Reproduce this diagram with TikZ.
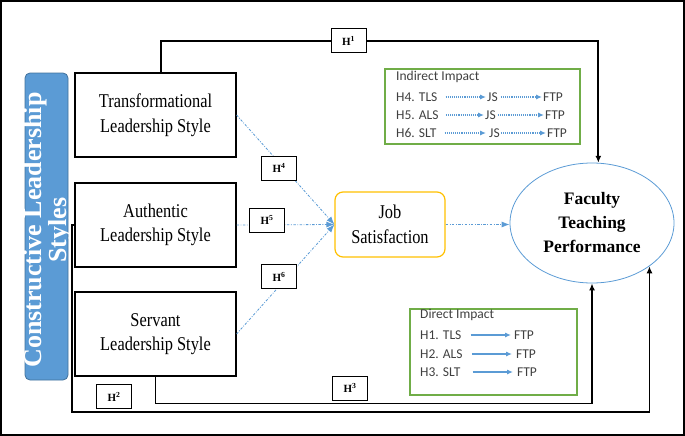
\documentclass[tikz,border=0pt]{standalone}
\usepackage{fontspec}
\setmainfont{Liberation Serif}
\newfontfamily\boxfont{Liberation Serif}[FakeStretch=0.84]
\newfontfamily\legfont{Carlito}
\usetikzlibrary{shapes.geometric,arrows.meta}
\definecolor{barblue}{HTML}{5B9BD5}
\definecolor{barborder}{HTML}{41719C}
\definecolor{leggreen}{HTML}{70AD47}
\definecolor{jsyellow}{HTML}{FFC000}
\definecolor{legtext}{HTML}{404040}
\tikzset{
  lsbox/.style={draw, line width=1.1pt, minimum width=161pt, minimum height=84pt, align=center, inner sep=0pt, font=\boxfont\fontsize{19.5}{24.5}\selectfont},
  hlab/.style={draw, line width=1pt, fill=white, minimum width=35pt, minimum height=24pt, inner sep=0pt, font=\bfseries\fontsize{11}{11}\selectfont},
  conn/.style={line width=1.8pt, -{Latex[length=7pt,width=6pt]}},
  connplain/.style={line width=1.8pt},
  dotl/.style={barblue, line width=0.8pt, dash pattern=on 2.5pt off 1.5pt on 0.8pt off 1.5pt, -{Latex[length=8pt,width=6pt]}},
  leg/.style={anchor=west, inner sep=0pt, font=\legfont\fontsize{13.5}{13.5}\selectfont, text=legtext},
  legdir/.style={barblue, line width=1.1pt, -{Latex[length=6pt,width=5pt]}},
  legind/.style={barblue, line width=1.1pt, densely dotted, -{Latex[length=6pt,width=5pt]}},
  greenbox/.style={draw=leggreen, line width=1.2pt, inner sep=0pt}
}
\begin{document}
\begin{tikzpicture}[x=1pt,y=-1pt]
\useasboundingbox (0,0) rectangle (685,436);
\draw[line width=2pt] (1,1) rectangle (684,435);

% left bar
\node[draw=barborder, fill=barblue, rounded corners=5pt, line width=0.8pt, minimum width=43pt, minimum height=307pt, inner sep=0pt] (bar) at (46.5,226.5) {};
\node[rotate=90, text=white, align=center, inner sep=0pt, font=\bfseries\fontsize{26}{21}\selectfont] (bartxt) at (48,230) {Constructive Leadership\\Styles};

% leadership boxes
\node[lsbox] (trans) at (155.5,115) {Transformational\\Leadership Style};
\node[lsbox] (auth) at (155.5,225) {Authentic\\Leadership Style};
\node[lsbox] (serv) at (155.5,334) {Servant\\Leadership Style};

% job satisfaction and outcome
\node[draw=jsyellow, rounded corners=8pt, line width=1.2pt, minimum width=110pt, minimum height=65pt, align=center, inner sep=0pt, font=\boxfont\fontsize{19.5}{24.5}\selectfont] (js) at (390,224.5) {Job\\Satisfaction};
\node[draw=barblue, ellipse, line width=0.8pt, minimum width=164pt, minimum height=120pt, inner sep=0pt, align=center, font=\bfseries\fontsize{17.5}{24}\selectfont] (ftp) at (592,223) {Faculty\\Teaching\\Performance};

% hypothesis labels for direct paths
\node[hlab] (h1) at (348.5,41) {H\textsuperscript{1}};
\node[hlab] (h2) at (114,396.5) {H\textsuperscript{2}};
\node[hlab] (h3) at (350,388) {H\textsuperscript{3}};

% direct paths
\draw[connplain] ([xshift=5.5pt]trans.north) |- (h1.west);
\draw[conn] (h1.east) -| (ftp.84);
\coordinate (c2) at (72,412);
\draw[conn] (auth.west) -| (c2) -| (ftp.-37);
\draw[conn] (serv.south) -- ++(0,27) -| (ftp.south);

% indirect paths
\draw[dotl] (trans.east) -- (js.west);
\draw[dotl] (auth.east) -- (js.west);
\draw[dotl] (serv.east) -- (js.west);
\draw[dotl] (js.east) -- (js.east -| ftp.west);

\node[hlab] (h4) at (279,168) {H\textsuperscript{4}};
\node[hlab] (h5) at (267,220) {H\textsuperscript{5}};
\node[hlab] (h6) at (279,276.5) {H\textsuperscript{6}};

% indirect legend
\node[greenbox, minimum width=195pt, minimum height=75pt] (indbox) at (482.5,106.5) {};
\node[leg] (indt) at (396,77) {Indirect Impact};
\node[leg] (i4) at (396,97) {H4. TLS};
\node[leg] (j4) at (487,97) {JS};
\node[leg] (f4) at (543,97) {FTP};
\node[leg] (i5) at (396,115) {H5. ALS};
\node[leg] (j5) at (485,115) {JS};
\node[leg] (f5) at (545,115) {FTP};
\node[leg] (i6) at (396,133) {H6. SLT};
\node[leg] (j6) at (489,133) {JS};
\node[leg] (f6) at (547,133) {FTP};
\draw[legind, shorten <=8pt, shorten >=1pt] (i4.east) -- (j4.west);
\draw[legind, shorten <=3pt, shorten >=1pt] (j4.east) -- (f4.west);
\draw[legind, shorten <=7pt, shorten >=1pt] (i5.east) -- (j5.west);
\draw[legind, shorten <=2pt, shorten >=1pt] (j5.east) -- (f5.west);
\draw[legind, shorten <=8pt, shorten >=3pt] (i6.east) -- (j6.west);
\draw[legind, shorten <=1pt, shorten >=1pt] (j6.east) -- (f6.west);

% direct legend
\node[greenbox, minimum width=167pt, minimum height=86pt] (dirbox) at (493.5,352) {};
\node[leg] (dirt) at (420,315) {Direct Impact};
\node[leg] (d1) at (420,335) {H1. TLS};
\node[leg] (g1) at (514,335) {FTP};
\node[leg] (d2) at (420,354) {H2. ALS};
\node[leg] (g2) at (516,354) {FTP};
\node[leg] (d3) at (420,372) {H3. SLT};
\node[leg] (g3) at (517,372) {FTP};
\draw[legdir, shorten <=9pt, shorten >=3pt] (d1.east) -- (g1.west);
\draw[legdir, shorten <=9pt, shorten >=4pt] (d2.east) -- (g2.west);
\draw[legdir, shorten <=12pt, shorten >=4pt] (d3.east) -- (g3.west);
\end{tikzpicture}
\end{document}
